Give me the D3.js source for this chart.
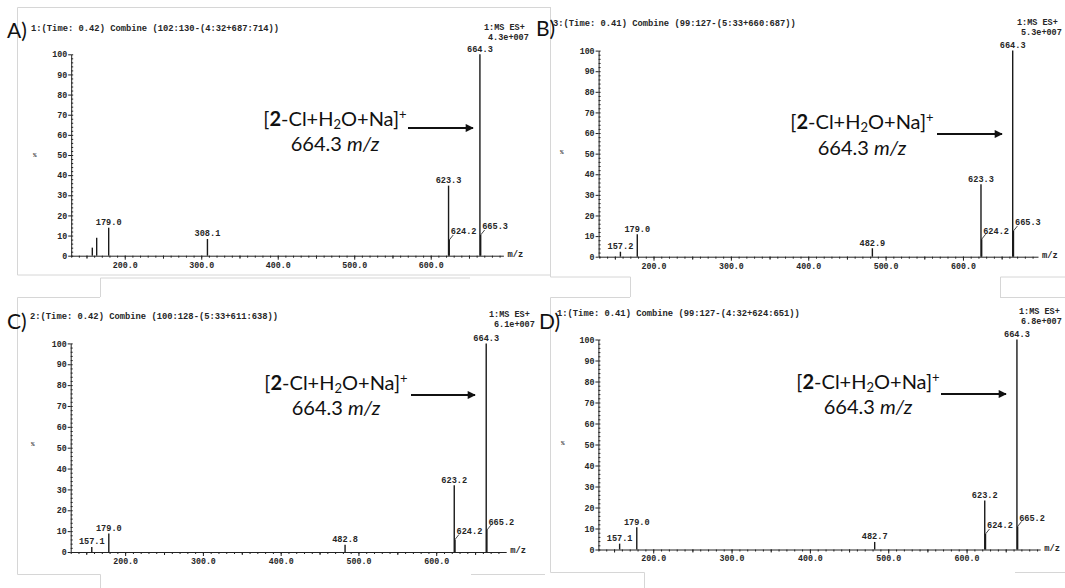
<!DOCTYPE html>
<html>
<head>
<meta charset="utf-8">
<script src="https://cdn.jsdelivr.net/npm/d3@7"></script>
<style>
  html, body { margin: 0; padding: 0; background: #fff; }
  svg { display: block; }
  .mono { font-family: "Liberation Mono", "DejaVu Sans Mono", monospace; fill: #262626; font-weight: bold; }
  .ann { font-family: Lato, "Open Sans", sans-serif; fill: #111; }
</style>
</head>
<body>
<svg id="chart" width="1065" height="588"></svg>
<script>
// ---- data ----
const panelNames = ["A)", "B)", "C)", "D)"];
const headerLines = [
  "1:(Time: 0.42) Combine (102:130-(4:32+687:714))",
  "3:(Time: 0.41) Combine (99:127-(5:33+660:687))",
  "2:(Time: 0.42) Combine (100:128-(5:33+611:638))",
  "1:(Time: 0.41) Combine (99:127-(4:32+624:651))"
];
const scanModes = ["1:MS ES+", "1:MS ES+", "1:MS ES+", "1:MS ES+"];
const baseIntensities = ["4.3e+007", "5.3e+007", "6.1e+007", "6.8e+007"];
const yTicks = [0, 10, 20, 30, 40, 50, 60, 70, 80, 90, 100];
const xTicks = [200, 300, 400, 500, 600];

// peak m/z, relative abundance (%), label placement ("" = unlabelled)
const mzA = [157.6, 163.3, 179.0, 308.1, 623.3, 624.2, 664.3, 665.3];
const relA = [4.0, 8.9, 13.9, 8.3, 34.8, 7.8, 100, 10.3];
const posA = ["", "", "top", "top", "top", "side", "top", "side"];

const mzB = [157.2, 179.0, 482.9, 623.3, 624.2, 664.3, 665.3];
const relB = [2.4, 10.9, 4.1, 35.1, 8.5, 100, 12.5];
const posB = ["top", "top", "top", "top", "side", "top", "side"];

const mzC = [157.1, 179.0, 482.8, 623.2, 624.2, 664.3, 665.2];
const relC = [2.4, 8.9, 3.5, 32.0, 6.0, 100, 10.5];
const posC = ["top", "top", "top", "top", "side", "top", "side"];

const mzD = [157.1, 179.0, 482.7, 623.2, 624.2, 664.3, 665.2];
const relD = [2.8, 10.6, 3.6, 23.3, 7.4, 100, 11.0];
const posD = ["top", "top", "top", "top", "side", "top", "side"];

const annotationMz = 664.3;

// ---- layout of the four spectra ----
const panels = [
  { mz: mzA, rel: relA, pos: posA, dom: [130, 695], xr: [71.2, 503.4], yr: [255.7, 54.3],
    tag: [7, 38], head: [31, 31], mode: [484, 30], base: [488, 39.5], pct: [33, 157],
    ann: [335, 126, 151], arrow: [408, 473, 128] },
  { mz: mzB, rel: relB, pos: posB, dom: [129, 697], xr: [598.6, 1038], yr: [256.7, 50.6],
    tag: [536, 36], head: [553, 26], mode: [1017, 25], base: [1021, 35], pct: [560, 154],
    ann: [862, 129, 155], arrow: [937, 1002, 134] },
  { mz: mzC, rel: relC, pos: posC, dom: [130, 690], xr: [70.7, 506.2], yr: [552, 343.4],
    tag: [7, 329], head: [30, 319], mode: [489, 317], base: [494, 327], pct: [31, 446],
    ann: [336, 390, 415], arrow: [411, 475, 395] },
  { mz: mzD, rel: relD, pos: posD, dom: [130, 694], xr: [598.4, 1040.2], yr: [549.5, 339.5],
    tag: [539, 329], head: [557, 316], mode: [1019, 314], base: [1021, 324], pct: [561, 445],
    ann: [868, 389, 414], arrow: [941, 1006, 394] }
];

const svg = d3.select("#chart");
const fmt = d3.format(".1f");

// faint borders of the pasted print-outs
const borders = [
  [[550, 7.5], [17.5, 7.5], [17.5, 275], [550, 275]],
  [[100.5, 297], [100.5, 278], [470, 278]],
  [[550.5, 7], [550.5, 277], [630.5, 277], [630.5, 297]],
  [[1065, 277], [1000.5, 277], [1000.5, 297]],
  [[100, 297.5], [17.5, 297.5], [17.5, 574.5], [100.5, 574.5], [100.5, 588]],
  [[471, 574.5], [545, 574.5]],
  [[630, 297.5], [550.5, 297.5], [550.5, 572.5], [644.5, 572.5], [644.5, 588]],
  [[1000, 297.5], [1065, 297.5]],
  [[1015, 572.5], [1065, 572.5]]
];
svg.append("g").selectAll("path").data(borders).join("path")
  .attr("d", d3.line())
  .attr("fill", "none").attr("stroke", "#d6d6d6").attr("stroke-width", 1);

const defs = svg.append("defs");
defs.append("marker").attr("id", "arrowhead")
  .attr("viewBox", "0 0 10 10").attr("refX", 9).attr("refY", 5)
  .attr("markerWidth", 5).attr("markerHeight", 4.5).attr("orient", "auto")
  .attr("markerUnits", "strokeWidth")
  .append("path").attr("d", "M0,0 L10,5 L0,10 Z").attr("fill", "#111");

panels.forEach((p, i) => {
  const g = svg.append("g");
  const x = d3.scaleLinear().domain(p.dom).range(p.xr);
  const y = d3.scaleLinear().domain([0, 100]).range(p.yr);

  // panel letter and acquisition header
  g.append("text").attr("class", "ann").attr("x", p.tag[0]).attr("y", p.tag[1])
    .attr("font-size", 21).text(panelNames[i]);
  g.append("text").attr("class", "mono").attr("x", p.head[0]).attr("y", p.head[1])
    .attr("font-size", 8.8).text(headerLines[i]);
  g.append("text").attr("class", "mono").attr("x", p.mode[0]).attr("y", p.mode[1])
    .attr("font-size", 8.5).text(scanModes[i]);
  g.append("text").attr("class", "mono").attr("x", p.base[0]).attr("y", p.base[1])
    .attr("font-size", 8.5).text(baseIntensities[i]);
  g.append("text").attr("class", "mono").attr("x", p.pct[0]).attr("y", p.pct[1])
    .attr("font-size", 6).text("%");

  // y axis: labelled decades on the left, fine ticks on the right
  g.append("g").attr("transform", `translate(${p.xr[0]},0)`)
    .call(d3.axisLeft(y).tickValues(yTicks).tickSize(3).tickSizeOuter(0).tickPadding(1));
  g.append("g").attr("transform", `translate(${p.xr[0]},0)`)
    .call(d3.axisRight(y).tickValues(d3.range(0, 101, 2)).tickSize(2).tickSizeOuter(0).tickFormat(""))
    .call(s => s.select(".domain").remove());

  // x axis: m/z
  g.append("g").attr("transform", `translate(0,${p.yr[0]})`)
    .call(d3.axisBottom(x).tickValues(xTicks).tickFormat(fmt).tickSize(4).tickSizeOuter(0).tickPadding(2));
  g.append("g").attr("transform", `translate(0,${p.yr[0]})`)
    .call(d3.axisBottom(x).tickValues(d3.range(Math.ceil(p.dom[0] / 10) * 10, p.dom[1], 10)).tickSize(2).tickFormat(""))
    .call(s => s.select(".domain").remove());
  g.append("g").attr("transform", `translate(0,${p.yr[0]})`)
    .call(d3.axisBottom(x).tickValues(d3.range(150, p.dom[1], 100)).tickSize(3).tickFormat(""))
    .call(s => s.select(".domain").remove());
  g.append("text").attr("class", "mono").attr("x", p.xr[1] + 4).attr("y", p.yr[0] + 1)
    .attr("font-size", 8.8).text("m/z");

  g.selectAll(".domain, .tick line").attr("stroke", "#222").attr("stroke-width", 1);
  g.selectAll(".tick text").attr("font-family", "Liberation Mono, DejaVu Sans Mono, monospace")
    .attr("font-size", 8.3).attr("font-weight", "bold").attr("fill", "#262626");

  // peaks
  const peaks = p.mz.map((m, k) => ({ mz: m, rel: p.rel[k], pos: p.pos[k] }));
  g.append("g").selectAll("line").data(peaks).join("line")
    .attr("x1", d => x(d.mz)).attr("x2", d => x(d.mz))
    .attr("y1", y(0)).attr("y2", d => y(d.rel))
    .attr("stroke", "#1a1a1a").attr("stroke-width", 1.4);

  g.append("g").selectAll("text").data(peaks.filter(d => d.pos === "top")).join("text")
    .attr("class", "mono").attr("font-size", 8.6).attr("text-anchor", "middle")
    .attr("x", d => x(d.mz)).attr("y", d => y(d.rel) - 2.5).text(d => fmt(d.mz));

  const side = peaks.filter(d => d.pos === "side");
  g.append("g").selectAll("line").data(side).join("line")
    .attr("x1", d => x(d.mz)).attr("y1", d => y(d.rel))
    .attr("x2", d => x(d.mz) + 4).attr("y2", d => y(d.rel) - 5)
    .attr("stroke", "#1a1a1a").attr("stroke-width", 0.8);
  g.append("g").selectAll("text").data(side).join("text")
    .attr("class", "mono").attr("font-size", 8.6)
    .attr("x", d => x(d.mz) + 1.5).attr("y", d => y(d.rel) - 5.5).text(d => fmt(d.mz));

  // annotation of the main ion
  const t1 = g.append("text").attr("class", "ann").attr("font-size", 20)
    .attr("text-anchor", "middle").attr("x", p.ann[0]).attr("y", p.ann[1]);
  t1.append("tspan").text("[");
  t1.append("tspan").attr("font-weight", "bold").text("2");
  t1.append("tspan").text("-Cl+H");
  t1.append("tspan").attr("font-size", 13).attr("dy", 3).text("2");
  t1.append("tspan").attr("dy", -3).text("O+Na]");
  t1.append("tspan").attr("font-size", 13).attr("dy", -7).text("+");

  const t2 = g.append("text").attr("class", "ann").attr("font-size", 20)
    .attr("text-anchor", "middle").attr("x", p.ann[0]).attr("y", p.ann[2]);
  t2.append("tspan").text(fmt(annotationMz) + " ");
  t2.append("tspan").attr("font-style", "italic").text("m/z");

  g.append("line")
    .attr("x1", p.arrow[0]).attr("x2", p.arrow[1])
    .attr("y1", p.arrow[2]).attr("y2", p.arrow[2])
    .attr("stroke", "#111").attr("stroke-width", 1.8)
    .attr("marker-end", "url(#arrowhead)");
});
</script>
</body>
</html>
